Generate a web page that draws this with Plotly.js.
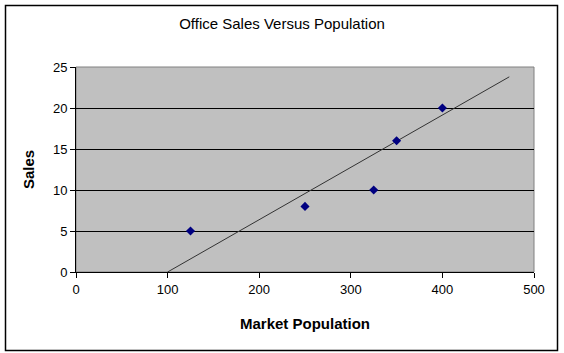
<!DOCTYPE html>
<html>
<head>
<meta charset="utf-8">
<script src="https://cdn.plot.ly/plotly-3.0.1.min.js"></script>
<style>html,body{margin:0;padding:0;background:#fff;}#chart{width:564px;height:353px;}</style>
</head>
<body>
<div id="chart"></div>
<script>
const population = [125, 250, 325, 350, 400];
const sales = [5, 8, 10, 16, 20];
const trendX = [100, 473];
const trendY = [0, 23.8];
const xTicks = [0, 100, 200, 300, 400, 500];
const yTicks = [0, 5, 10, 15, 20, 25];

const font = 'Arial, "Liberation Sans", sans-serif';

const traces = [
  {
    x: trendX, y: trendY, type: 'scatter', mode: 'lines',
    line: {color: '#333333', width: 1}, hoverinfo: 'skip', showlegend: false
  },
  {
    x: population, y: sales, type: 'scatter', mode: 'markers',
    marker: {symbol: 'diamond', color: '#000080', size: 7, line: {width: 0}},
    showlegend: false
  }
];

const layout = {
  width: 564, height: 353,
  margin: {l: 76, r: 30, t: 67, b: 81},
  paper_bgcolor: '#ffffff',
  plot_bgcolor: '#C0C0C0',
  font: {family: font, size: 13, color: '#000'},
  title: {
    text: 'Office Sales Versus Population',
    font: {family: font, size: 15, color: '#000'},
    x: 0.5, xref: 'container', xanchor: 'center',
    y: 1 - 24 / 353, yref: 'container', yanchor: 'middle'
  },
  xaxis: {
    range: [0, 500], tickvals: xTicks, ticktext: xTicks.map(String),
    showgrid: false, zeroline: false,
    showline: true, linecolor: '#000', linewidth: 1,
    ticks: 'outside', ticklen: 5, tickcolor: '#000', tickwidth: 1,
    tickfont: {family: font, size: 13, color: '#000'},
    title: {text: '<b>Market Population</b>', font: {family: font, size: 15, color: '#000'}, standoff: 22}
  },
  yaxis: {
    range: [0, 25], tickvals: yTicks, ticktext: yTicks.map(String),
    showgrid: true, gridcolor: '#000', gridwidth: 1, zeroline: false,
    showline: true, linecolor: '#000', linewidth: 1,
    ticks: 'outside', ticklen: 5, tickcolor: '#000', tickwidth: 1,
    tickfont: {family: font, size: 13, color: '#000'},
    title: {text: '<b>Sales</b>', font: {family: font, size: 15, color: '#000'}, standoff: 14}
  },
  shapes: [
    {type: 'rect', xref: 'paper', yref: 'paper', x0: 0, x1: 1, y0: 0, y1: 1,
     line: {color: '#808080', width: 1}, fillcolor: 'rgba(0,0,0,0)', layer: 'below'},
    {type: 'rect', xref: 'paper', yref: 'paper',
     x0: (5.5 - 76) / 458, x1: (557.5 - 76) / 458,
     y0: (272 - 350.5) / 205, y1: (272 - 5.5) / 205,
     line: {color: '#000', width: 1.5}, fillcolor: 'rgba(0,0,0,0)'}
  ]
};

Plotly.newPlot('chart', traces, layout, {displayModeBar: false, staticPlot: true});
</script>
</body>
</html>
